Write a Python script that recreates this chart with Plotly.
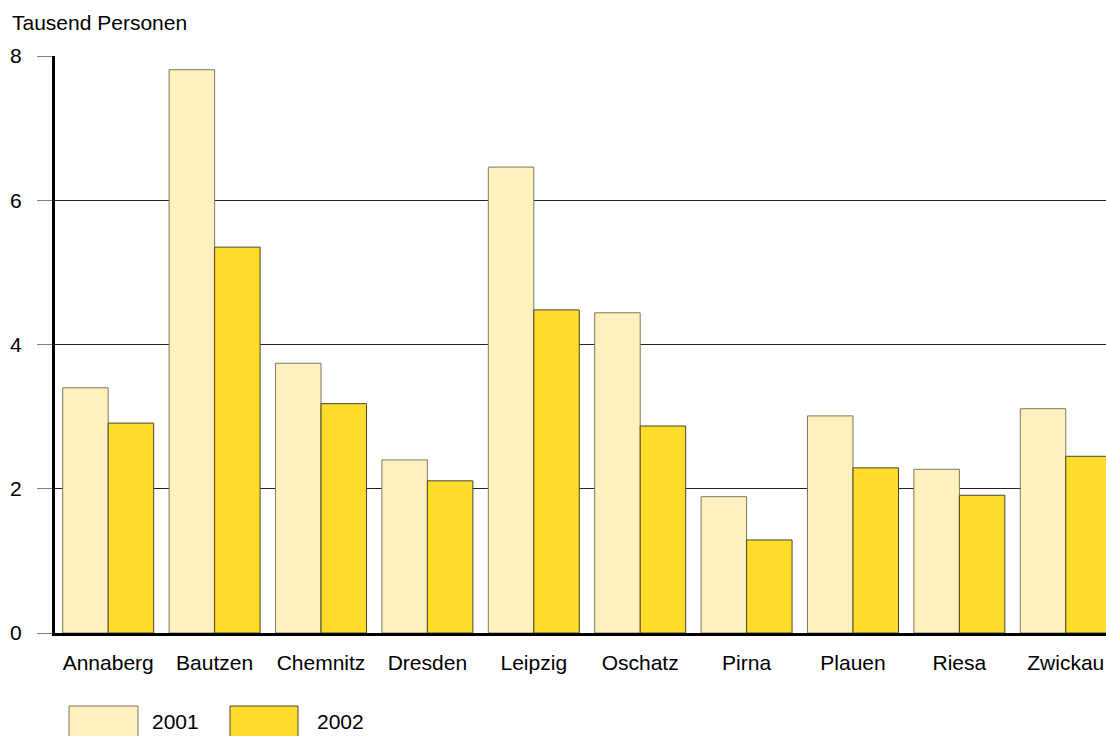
import plotly.graph_objects as go

categories = ["Annaberg", "Bautzen", "Chemnitz", "Dresden", "Leipzig",
              "Oschatz", "Pirna", "Plauen", "Riesa", "Zwickau"]
values_2001 = [3.40, 7.81, 3.74, 2.40, 6.46, 4.44, 1.89, 3.01, 2.27, 3.11]
values_2002 = [2.91, 5.35, 3.18, 2.11, 4.48, 2.87, 1.29, 2.29, 1.91, 2.45]
series_names = ["2001", "2002"]
y_ticks = [0, 2, 4, 6, 8]

FONT = "Liberation Sans, Arial, sans-serif"
FS = 21
c2001 = "#FEF1BE"
c2002 = "#FEDC2A"
e2001 = "#7d785e"
e2002 = "#4a4530"

fig = go.Figure()
fig.add_trace(go.Bar(x=categories, y=values_2001, name=series_names[0],
                     marker=dict(color=c2001, line=dict(color=e2001, width=1))))
fig.add_trace(go.Bar(x=categories, y=values_2002, name=series_names[1],
                     marker=dict(color=c2002, line=dict(color=e2002, width=1))))

W, H = 1106, 736
ml, mr, mt = 55, 0, 56
mb = H - 633
pw, ph = W - ml - mr, H - mt - mb

def px(x):  # page x -> paper x
    return (x - ml) / pw

def py(y):  # page y -> paper y
    return (H - mb - y) / ph

fig.update_layout(
    width=W, height=H,
    margin=dict(l=ml, r=mr, t=mt, b=mb),
    paper_bgcolor="white", plot_bgcolor="white",
    barmode="group", bargap=0.145, bargroupgap=0,
    showlegend=False,
    font=dict(family=FONT, size=FS, color="black"),
    xaxis=dict(range=[-0.5, 9.378], showline=True, linewidth=3, linecolor="black",
               ticks="", tickfont=dict(size=FS), ticklabelstandoff=9,
               showgrid=False, zeroline=False),
    yaxis=dict(range=[0, 8], tickvals=y_ticks, showline=True, linewidth=3,
               linecolor="black", ticks="outside", ticklen=15, tickcolor="#808080",
               tickwidth=1, showgrid=True, gridcolor="#222222", gridwidth=1,
               zeroline=False, tickfont=dict(size=FS), ticklabelstandoff=11),
    annotations=[
        dict(text="Tausend Personen", xref="paper", yref="paper",
             x=px(10), y=py(22), xanchor="left", yanchor="middle",
             showarrow=False, font=dict(size=FS)),
        dict(text=series_names[0], xref="paper", yref="paper",
             x=px(150), y=py(721), xanchor="left", yanchor="middle",
             showarrow=False, font=dict(size=FS)),
        dict(text=series_names[1], xref="paper", yref="paper",
             x=px(315), y=py(721), xanchor="left", yanchor="middle",
             showarrow=False, font=dict(size=FS)),
    ],
    shapes=[
        dict(type="rect", xref="paper", yref="paper", x0=px(69), x1=px(138),
             y0=py(706), y1=py(745), fillcolor=c2001,
             line=dict(color=e2001, width=1)),
        dict(type="rect", xref="paper", yref="paper", x0=px(230), x1=px(298),
             y0=py(706), y1=py(745), fillcolor=c2002,
             line=dict(color=e2002, width=1)),
    ],
)

fig.write_html("out.html",
               config={"displayModeBar": False},
               post_script="document.body.style.margin='0';"
                           "document.body.style.overflow='hidden';")
